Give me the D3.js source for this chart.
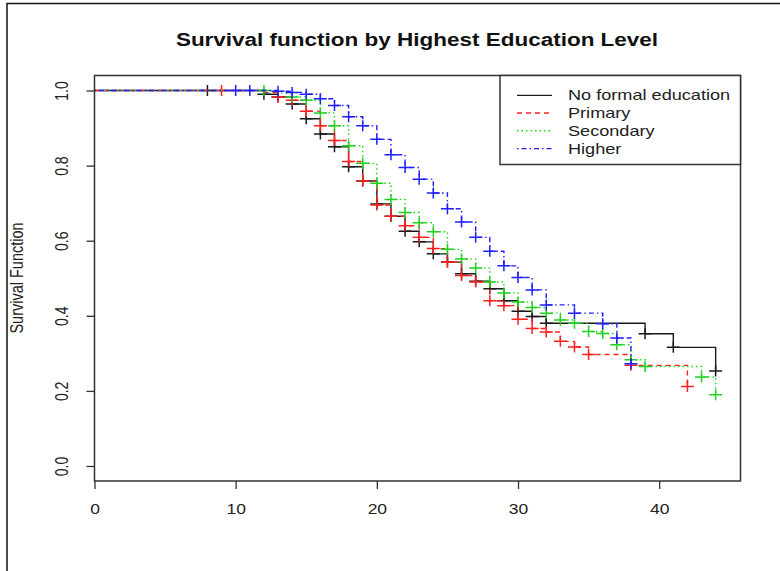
<!DOCTYPE html>
<html>
<head>
<meta charset="utf-8">
<script src="https://cdn.jsdelivr.net/npm/d3@7"></script>
<style>
  html, body { margin: 0; padding: 0; background: #fff; }
  svg { display: block; font-family: "Liberation Sans", Arial, sans-serif; }
</style>
</head>
<body>
<svg id="chart" width="780" height="571"></svg>
<script>
// ---------------- data ----------------
const seriesNames = ["No formal education", "Primary", "Secondary", "Higher"];

const noFormalTime = [0, 12, 13, 14, 15, 16, 17, 18, 19, 20, 21, 22, 23, 24, 25, 26, 27, 28, 29, 30, 31, 32, 39, 41, 44];
const noFormalSurv = [1, 0.99, 0.983, 0.964, 0.925, 0.884, 0.85, 0.797, 0.759, 0.698, 0.665, 0.625, 0.597, 0.565, 0.543, 0.512, 0.492, 0.472, 0.44, 0.412, 0.398, 0.38, 0.352, 0.316, 0.253];
const noFormalCensor = [8, 12, 13, 14, 15, 16, 17, 18, 19, 20, 21, 22, 23, 24, 25, 26, 27, 28, 29, 30, 31, 32, 39, 41, 44];

const primaryTime = [0, 12, 13, 14, 15, 16, 17, 18, 19, 20, 21, 22, 23, 24, 25, 26, 27, 28, 29, 30, 31, 32, 33, 34, 35, 38, 42];
const primarySurv = [1, 0.995, 0.983, 0.974, 0.945, 0.906, 0.867, 0.811, 0.759, 0.695, 0.665, 0.64, 0.609, 0.579, 0.543, 0.507, 0.49, 0.44, 0.427, 0.391, 0.366, 0.357, 0.332, 0.317, 0.297, 0.268, 0.212];
const primaryCensor = [9, 13, 14, 15, 16, 17, 18, 19, 20, 21, 22, 23, 24, 25, 26, 27, 28, 29, 30, 31, 32, 33, 34, 35, 38, 42];

const secondaryTime = [0, 13, 14, 15, 16, 17, 18, 19, 20, 21, 22, 23, 24, 25, 26, 27, 28, 29, 30, 31, 32, 33, 34, 35, 36, 37, 38, 39, 43, 44];
const secondarySurv = [1, 0.993, 0.983, 0.974, 0.94, 0.906, 0.853, 0.806, 0.753, 0.71, 0.675, 0.648, 0.624, 0.577, 0.551, 0.527, 0.49, 0.461, 0.437, 0.422, 0.407, 0.389, 0.38, 0.358, 0.353, 0.323, 0.283, 0.265, 0.237, 0.19];
const secondaryCensor = [12, 14, 15, 16, 17, 18, 19, 20, 21, 22, 23, 24, 25, 26, 27, 28, 29, 30, 31, 32, 33, 34, 35, 36, 37, 38, 39, 43, 44];

const higherTime = [0, 13, 14, 15, 16, 17, 18, 19, 20, 21, 22, 23, 24, 25, 26, 27, 28, 29, 30, 31, 32, 34, 36, 37, 38];
const higherSurv = [1, 0.998, 0.995, 0.99, 0.978, 0.96, 0.93, 0.906, 0.87, 0.829, 0.795, 0.764, 0.727, 0.685, 0.65, 0.609, 0.572, 0.533, 0.502, 0.469, 0.429, 0.407, 0.379, 0.341, 0.272];
const higherCensor = [10, 11, 13, 14, 15, 16, 17, 18, 19, 20, 21, 22, 23, 24, 25, 26, 27, 28, 29, 30, 31, 32, 34, 36, 37, 38];

const xTicks = [0, 10, 20, 30, 40];
const yTicks = [0.0, 0.2, 0.4, 0.6, 0.8, 1.0];

const titleText = "Survival function by Highest Education Level";
const yLabel = "Survival Function";

// ---------------- layout / style ----------------
const SX = 1.25;               // horizontal text stretch seen in the picture
const box = { left: 94.5, right: 740.5, top: 75.5, bottom: 481 };
const colors = ["#1a1a1a", "#ff2020", "#1ed21e", "#2020ff"];
const dashes = [null, "5,4", "1.5,3", "1.5,3,5,3"];

const series = [
  { time: noFormalTime, surv: noFormalSurv, censor: noFormalCensor },
  { time: primaryTime, surv: primarySurv, censor: primaryCensor },
  { time: secondaryTime, surv: secondarySurv, censor: secondaryCensor },
  { time: higherTime, surv: higherSurv, censor: higherCensor }
];

const svg = d3.select("#chart");

// outer frame
svg.append("path").attr("d", "M7,571 L7,3.5 L780,3.5")
  .attr("fill", "none").attr("stroke", "#111").attr("stroke-width", 1.5);

const x = d3.scaleLinear().domain([0, 44 * 1.04]).range([box.left, box.right]);
const y = d3.scaleLinear().domain([-0.04, 1.04]).range([box.bottom, box.top]);

// title
svg.append("text")
  .attr("transform", `translate(417,46) scale(${SX},1)`)
  .attr("text-anchor", "middle")
  .attr("font-weight", "bold")
  .attr("font-size", 18)
  .attr("fill", "#111")
  .text(titleText);

// x axis
const gx = svg.append("g").attr("transform", `translate(0,${box.bottom})`)
  .call(d3.axisBottom(x).tickValues(xTicks).tickSize(8).tickFormat(d3.format("d")));
gx.select(".domain").remove();
gx.selectAll(".tick line").attr("stroke", "#333").attr("stroke-width", 1.3);
gx.selectAll(".tick text")
  .attr("y", 0).attr("dy", 0)
  .attr("transform", `translate(0,33) scale(${SX},1)`)
  .attr("font-size", 14).attr("fill", "#222")
  .attr("font-family", "Liberation Sans, Arial, sans-serif");

// y axis
const gy = svg.append("g").attr("transform", `translate(${box.left},0)`)
  .call(d3.axisLeft(y).tickValues(yTicks).tickSize(8).tickFormat(d3.format(".1f")));
gy.select(".domain").remove();
gy.selectAll(".tick line").attr("stroke", "#333").attr("stroke-width", 1.3);
gy.selectAll(".tick text")
  .attr("x", 0).attr("y", 0).attr("dy", 0)
  .attr("text-anchor", "middle")
  .attr("transform", `translate(${68 - box.left},0) scale(${SX},1) rotate(-90)`)
  .attr("font-size", 14).attr("fill", "#222")
  .attr("font-family", "Liberation Sans, Arial, sans-serif");

// y label
svg.append("text")
  .attr("transform", `translate(23,278) scale(${SX},1) rotate(-90)`)
  .attr("text-anchor", "middle")
  .attr("font-size", 14.5)
  .attr("fill", "#222")
  .text(yLabel);

// curves
const line = d3.line().x(d => x(d[0])).y(d => y(d[1])).curve(d3.curveStepAfter);
const plot = svg.append("g");

series.forEach((s, i) => {
  const pts = s.time.map((t, k) => [t, s.surv[k]]);
  plot.append("path")
    .attr("d", line(pts))
    .attr("fill", "none")
    .attr("stroke", colors[i])
    .attr("stroke-width", 1.4)
    .attr("stroke-dasharray", dashes[i]);
  const bis = d3.bisector(d => d).right;
  const marks = s.censor.map(t => {
    const k = bis(s.time, t) - 1;
    return [t, s.surv[Math.max(0, k)]];
  });
  const mg = plot.append("g").attr("stroke", colors[i]).attr("stroke-width", 1.5);
  mg.selectAll("path").data(marks).join("path")
    .attr("d", d => {
      const cx = x(d[0]), cy = y(d[1]);
      return `M${cx - 6.5},${cy}H${cx + 6.5}M${cx},${cy - 5.5}V${cy + 5.5}`;
    });
});

// box
svg.append("rect")
  .attr("x", box.left).attr("y", box.top)
  .attr("width", box.right - box.left).attr("height", box.bottom - box.top)
  .attr("fill", "none").attr("stroke", "#333").attr("stroke-width", 1.5);

// legend
const lg = svg.append("g");
lg.append("rect").attr("x", 500).attr("y", box.top).attr("width", box.right - 500).attr("height", 164.5 - box.top)
  .attr("fill", "#fff").attr("stroke", "#333").attr("stroke-width", 1.5);
const rowY = [95.4, 113, 130.7, 148.6];
seriesNames.forEach((name, i) => {
  lg.append("line").attr("x1", 517).attr("x2", 552).attr("y1", rowY[i]).attr("y2", rowY[i])
    .attr("stroke", colors[i]).attr("stroke-width", 1.4).attr("stroke-dasharray", dashes[i]);
  lg.append("text")
    .attr("transform", `translate(568,${rowY[i] + 5}) scale(${SX},1)`)
    .attr("font-size", 14.5).attr("fill", "#222")
    .text(name);
});
</script>
</body>
</html>
